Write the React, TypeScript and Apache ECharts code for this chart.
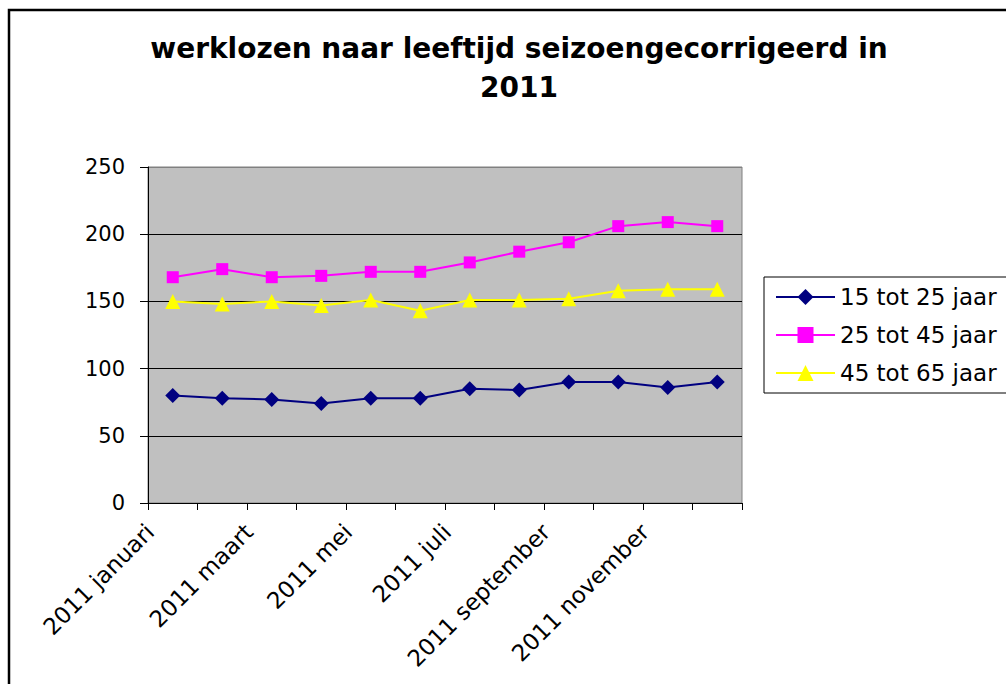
import React, { useEffect, useRef } from "react";
import * as echarts from "echarts";

const titleText = "werklozen naar leeftijd seizoengecorrigeerd in\n2011";
const months = [
  "2011 januari", "2011 februari", "2011 maart", "2011 april", "2011 mei", "2011 juni",
  "2011 juli", "2011 augustus", "2011 september", "2011 oktober", "2011 november", "2011 december",
];
const seriesNames = ["15 tot 25 jaar", "25 tot 45 jaar", "45 tot 65 jaar"];
const age15to25 = [80, 78, 77, 74, 78, 78, 85, 84, 90, 90, 86, 90];
const age25to45 = [168, 174, 168, 169, 172, 172, 179, 187, 194, 206, 209, 206];
const age45to65 = [150, 148, 150, 147, 151, 143, 151, 151, 152, 158, 159, 159];
const yMin = 0;
const yMax = 250;
const yStep = 50;

const FONT = "DejaVu Sans";

export default function App() {
  const ref = useRef<HTMLDivElement>(null);
  useEffect(() => {
    if (!ref.current) return;
    const chart = echarts.init(ref.current, null, { renderer: "svg" });
    const labelSlots = [...months, ""];
    const gridLeft = 148, gridTop = 167, gridW = 594, gridH = 336;
    chart.setOption({
      animation: false,
      backgroundColor: "#ffffff",
      title: {
        text: titleText,
        left: 514,
        top: 24,
        textAlign: "center",
        textStyle: { fontFamily: FONT, fontSize: 28, fontWeight: "bold", color: "#000", lineHeight: 39 },
      },
      graphic: [
        { type: "rect", shape: { x: 9, y: 10, width: 1200, height: 900 }, style: { fill: "none", stroke: "#000", lineWidth: 2.5 }, silent: true, z: 100 },
      ],
      legend: {
        orient: "vertical",
        left: 764,
        top: 277,
        padding: [8, 60, 8, 11],
        itemGap: 14,
        itemWidth: 59,
        itemHeight: 20,
        borderColor: "#000",
        borderWidth: 1,
        backgroundColor: "#fff",
        textStyle: { fontFamily: FONT, fontSize: 23, color: "#000", lineHeight: 24 },
        data: seriesNames,
      },
      grid: [
        { left: gridLeft, top: gridTop, width: gridW, height: gridH, show: true, backgroundColor: "#C0C0C0", borderColor: "#808080", borderWidth: 1 },
        { left: gridLeft + 2, top: gridTop, width: gridW, height: gridH, show: false },
      ],
      xAxis: [
        {
          type: "category",
          gridIndex: 0,
          data: months,
          boundaryGap: true,
          position: "bottom",
          axisLine: { show: true, lineStyle: { color: "#000", width: 1 } },
          axisTick: { show: true, interval: 0, length: 7, lineStyle: { color: "#000" } },
          axisLabel: { show: false },
          splitLine: { show: false },
        },
        {
          type: "category",
          gridIndex: 1,
          data: labelSlots,
          boundaryGap: false,
          position: "bottom",
          axisLine: { show: false },
          axisTick: { show: false },
          axisLabel: { show: true, interval: 1, rotate: 45, margin: 25, fontFamily: FONT, fontSize: 23, color: "#000" },
          splitLine: { show: false },
        },
      ],
      yAxis: [
        {
          type: "value",
          gridIndex: 0,
          min: yMin,
          max: yMax,
          interval: yStep,
          axisLine: { show: true, lineStyle: { color: "#000", width: 1 } },
          axisTick: { show: true, length: 8, lineStyle: { color: "#000" } },
          axisLabel: { margin: 23, fontFamily: FONT, fontSize: 21, color: "#000" },
          splitLine: { show: true, lineStyle: { color: ["#000", "#000", "#000", "#000", "#000", "#808080"], width: 1 } },
        },
        { type: "value", gridIndex: 1, show: false, min: yMin, max: yMax },
      ],
      series: [
        {
          name: seriesNames[0], type: "line", data: age15to25, xAxisIndex: 0, yAxisIndex: 0,
          symbol: "diamond", symbolSize: 15,
          lineStyle: { color: "#000080", width: 2 }, itemStyle: { color: "#000080" },
        },
        {
          name: seriesNames[1], type: "line", data: age25to45, xAxisIndex: 0, yAxisIndex: 0,
          symbol: "rect", symbolSize: 12,
          lineStyle: { color: "#FF00FF", width: 2 }, itemStyle: { color: "#FF00FF" },
        },
        {
          name: seriesNames[2], type: "line", data: age45to65, xAxisIndex: 0, yAxisIndex: 0,
          symbol: "triangle", symbolSize: 15,
          lineStyle: { color: "#FFFF00", width: 2 }, itemStyle: { color: "#FFFF00" },
        },
      ],
    });
    return () => chart.dispose();
  }, []);
  return <div ref={ref} style={{ position: "absolute", left: 0, top: 0, width: 1006, height: 684 }} />;
}
